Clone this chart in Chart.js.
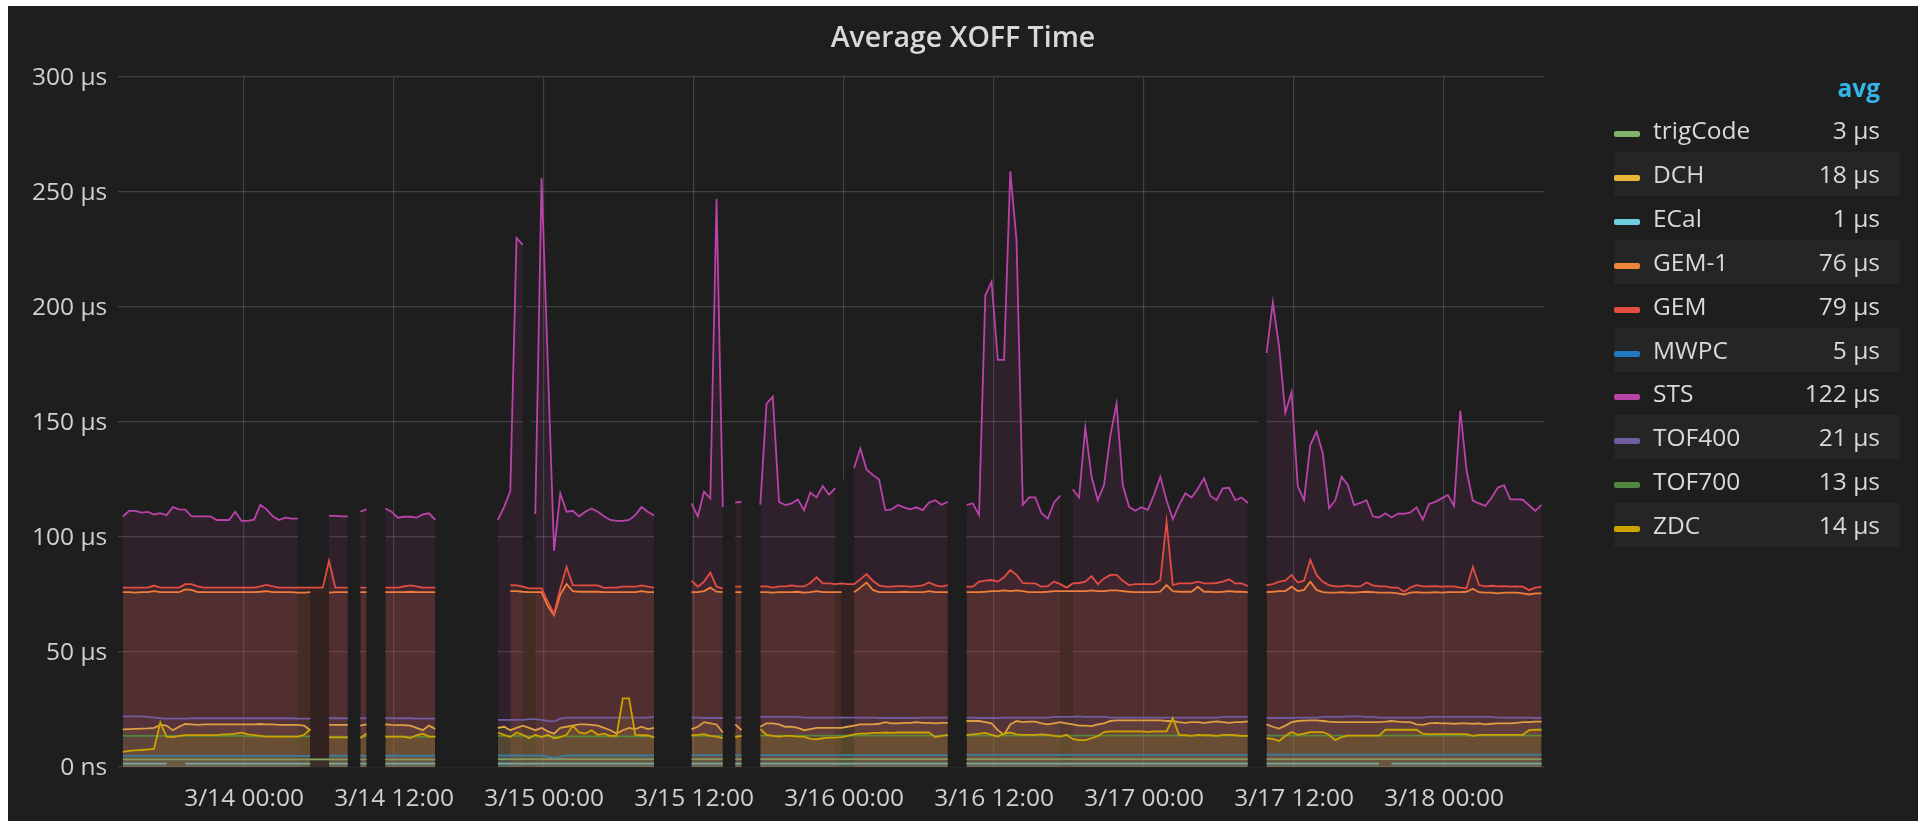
<!DOCTYPE html>
<html>
<head>
<meta charset="utf-8">
<script src="https://cdn.jsdelivr.net/npm/chart.js@4/dist/chart.umd.min.js"></script>
<style>
html,body{margin:0;padding:0;background:#ffffff;width:1918px;height:821px;overflow:hidden;font-family:"Open Sans",sans-serif;}
#panel{position:absolute;left:8px;top:6px;width:1910px;height:815px;background:#1f1e1f;}
#c{position:absolute;left:0;top:0;}
#legend{position:absolute;left:1606px;top:0;width:286px;height:815px;}
.lhead{position:absolute;left:0;top:67px;width:266px;height:30px;line-height:30px;text-align:right;color:#33b5e5;font-weight:bold;font-size:24.5px;}
.lrow{position:absolute;left:0;width:286px;height:44px;line-height:44px;font-size:24.5px;color:#d8d9da;white-space:nowrap;}
.lrow.odd{background:#252526;}
.sw{position:absolute;left:0;top:23px;width:26px;height:6px;border-radius:2px;}
.lname{position:absolute;left:39px;top:0;}
.lval{position:absolute;right:20px;top:0;}
</style>
</head>
<body>
<div id="panel">
  <canvas id="c" width="1910" height="815"></canvas>
  <div id="legend"></div>
</div>
<script>
const _ = null;

// ---- categories / labels ----
const chartTitle = 'Average XOFF Time';
const seriesNames = ['trigCode','DCH','ECal','GEM-1','GEM','MWPC','STS','TOF400','TOF700','ZDC'];
const seriesColors = ['#7EB26D','#EAB839','#6ED0E0','#EF843C','#E24D42','#1F78C1','#BA43A9','#705DA0','#508642','#CCA300'];
const avgLabels = ['3 µs','18 µs','1 µs','76 µs','79 µs','5 µs','122 µs','21 µs','13 µs','14 µs'];
const xTickHours = [0,12,24,36,48,60,72,84,96];   // hours since 3/14 00:00
const xTickLabels = ['3/14 00:00','3/14 12:00','3/15 00:00','3/15 12:00','3/16 00:00','3/16 12:00','3/17 00:00','3/17 12:00','3/18 00:00'];
const yTickValues = [0,50,100,150,200,250,300];
const yTickLabels = ['0 ns','50 µs','100 µs','150 µs','200 µs','250 µs','300 µs'];
const xMinHour = -10.06, xMaxHour = 104.02;
const sampleStartHour = -9.7, sampleStepHours = 0.5;   // 30-minute samples

// ---- series values (µs), 228 samples each ----
const STS = [
108.8,111.4,111.4,110.6,110.9,109.8,110.4,109.5,113,112,
111.9,109,109,109,109,107.4,107.4,107.4,111,107,
107,107.5,114,112,109,107.4,108.4,108,108,_,
_,_,_,109.2,109.2,109,109,_,111,112,
_,_,112.4,111,108.4,108.8,108.8,108.4,109.8,110.3,
107.4,_,_,_,_,_,_,_,_,_,
107.4,113,120,230,227,_,110,256,175,94,
119,111,111.4,109,111,112.4,111,109,107.4,107,
107,107.4,109.5,113,111,109.3,_,_,_,_,
_,114.6,109,119.7,116.8,247,113,_,115,115.3,
_,_,114,158,161,115.3,113.9,114.6,116.3,111.7,
119.3,117.2,122.2,118.4,121.2,_,_,130,138.5,129.4,
127,125,111.7,112,113.9,112.9,112,112.9,111.7,115,
116,114,115.3,_,_,114,114.6,109.6,205,211,
177,177,259,229,114,117.2,117.2,110.3,108,115,
118,_,120.7,117.2,147.7,126.2,116,122.6,144,158,
122.6,113.2,111.4,112.9,111.8,118.3,126.2,116,107.7,113.9,
119,117.2,121,125.5,118,116,121.2,121.4,116,117.2,
114.8,_,_,180,202,183,154,163,122,116,
140,145.8,136.4,112.5,116,126.2,122.6,113.9,114.8,116,
109,108.5,110.3,108.5,110.1,110.1,110.7,112.9,107.6,114.4,
115.3,116.8,118.3,113.5,155,129,115.8,114.6,113.5,117,
121.5,122.5,116.4,116.4,116.2,113.8,111.4,114];

const GEM = [
78,78,78,78,78,78.9,78,78,78,78,
79.5,79.5,78.5,78,78,78,78,78,78,78,
78,78,78.5,79.2,78.5,78,78,78,78,78,
78,78,78,89.7,78,78,78,_,78,78,
_,_,78,78,78,78.5,79,78.5,78,78,
78,_,_,_,_,_,_,_,_,_,
_,_,79.1,79,78.4,77.7,77.7,77.7,71.9,66.7,
77.6,87,79.1,79,79,79,79,77.9,78,78,
78.4,78.4,78.4,79,78.4,78,_,_,_,_,
_,81,78.4,80.6,84.5,78.4,77.7,_,78.4,78.4,
_,_,78.5,78.5,78,78.5,78.5,79,78.5,78.5,
80,82.5,79.8,79.8,79.5,79.8,79.5,79.5,81.6,83.9,
81,79,78.4,78.4,78.6,78.6,78.4,78.6,79,80.2,
79,78.4,79.1,_,_,78.4,78.4,80.6,81,81.3,
80.6,82.5,85.7,83.5,80,79.8,79.8,78.4,78.6,80.6,
79.5,78,79.8,80,80.6,83,79.5,82,83.5,83.5,
81,79.1,79.5,79.5,79.5,79.5,81.3,106.7,79.1,79.8,
79.8,79.8,80.6,79.8,79.8,80,80.6,81.6,79.8,79.8,
78.7,_,_,79.1,79.5,80.6,81,83.5,80.2,81,
90,83.5,80.5,79.1,78.5,78.5,79,78.5,78.5,80.2,
79,78.5,78.5,78,78,76.2,78,79.1,78.5,78.5,
78.6,78.4,78.5,78.5,78,77.7,87,79.1,78.5,78.8,
78.5,78.6,78.4,78.5,78.4,76.9,78,78.3];

const GEM1 = [
76,76,75.8,76,76,76.5,76,76,76,76,
77.2,77,76,76,76,76,76,76,76,76,
76,76,76.2,76.5,76,76,76,76,75.8,75.8,
76,_,_,75.8,76,76,76,_,76,76,
_,_,76,76,76,76,76.2,76,76,76,
76,_,_,_,_,_,_,_,_,_,
_,_,76.5,76.5,76.2,76,76,76,70,66,
75,79.6,76.5,76.2,76.2,76.2,76.2,76,76,76,
76,76,76,76.5,76,76,_,_,_,_,
_,76,76,76.5,78,76.2,76,_,76,76,
_,_,76,76,75.8,76,76,76,76.2,75.8,
76,76.5,76,76,76,76,_,76,78,80.2,
77,76,76,76,76,76.2,76,76,76,76.5,
76,76,76,_,_,76,76,76,76.2,76.5,
76.5,76.8,76.5,76.8,76.5,76,76,76,76.2,76.5,
76.5,76.5,76.5,76.5,76.5,76.8,76.5,76.5,76.8,76.8,
76.5,76.2,76,76,76,76,76.2,79.1,76.5,76.2,
76.2,76.2,78.4,76.2,76.2,76,76.2,76.5,76.2,76.2,
76,_,_,76,76.2,76.5,76.5,78.4,76.5,77,
80.6,77,76,75.8,75.8,76,75.8,75.8,76,76.2,
76,75.8,75.8,75.8,75.5,75,75.8,76,75.8,75.8,
76,75.8,76,76,76,76.2,77.5,76,75.8,75.8,
75.5,75.8,75.8,75.8,75.5,75,75.5,75.5];

const TOF400 = [
22,22,22,22,21.8,21.5,21.2,21,21,21,
21,21.2,21.2,21.2,21.2,21.2,21.2,21.2,21.2,21.2,
21.2,21.2,21.2,21.2,21.2,21.2,21.2,21.2,21,21,
21,_,_,21.2,21.2,21.2,21.2,_,21.2,21.2,
_,_,21.2,21.2,21.2,21.2,21.2,21,21,21,
21,_,_,_,_,_,_,_,_,_,
20.5,20.5,20.5,20.5,20.5,20.8,20.8,20.5,20,19.8,
21,21.5,21.5,21.5,21.5,21.5,21.5,21.5,21.5,21.5,
21.5,21.5,21.5,21.5,21.5,21.8,_,_,_,_,
_,21.5,21.5,21.3,21.3,21.3,21.3,_,21.5,21.5,
_,_,21.8,21.8,21.8,21.8,21.8,21.8,21.8,21.5,
21.5,21.5,21.5,21.5,21.5,21.5,21.5,21.5,21.5,21.5,
21.5,21.3,21.3,21.3,21.3,21.3,21.3,21.3,21.5,21.5,
21.5,21.5,21.5,_,_,21.5,21.5,21.3,21.3,21.3,
21.3,21.5,21.5,21.5,21.5,21.5,21.5,21.5,21.5,21.8,
21.8,21.8,21.8,22,21.8,21.8,21.8,21.8,21.5,21.5,
21.5,21.5,21.5,21.5,21.5,21.5,21.5,21.5,21.5,21.5,
21.5,21.5,21.5,21.5,21.5,21.5,21.8,21.8,21.8,21.8,
21.8,_,_,21.3,21.3,21.3,21.3,21.3,21.5,21.5,
21.5,21.5,21.8,21.8,21.8,21.8,22,22,22,21.8,
21.8,21.5,21.5,21.5,21.5,21.5,21.5,21.5,21.5,21.8,
21.8,21.8,21.8,21.8,21.8,21.8,21.8,21.8,21.8,21.8,
21.5,21.5,21.5,21.5,21.5,21.5,21.3,21.3];

const DCH = [
16.4,16.5,16.6,16.7,16.8,17,18.3,18,16,17.5,
18.7,18.5,18.3,18.5,18.5,18.5,18.5,18.5,18.5,18.5,
18.5,18.5,18.7,18.5,18.5,18.3,18.3,18.3,18.3,18,
16,_,_,18.3,18.3,18.3,18.3,_,18,18.5,
_,_,18.5,18.3,18.2,18.2,18,17,16,18,
16.5,_,_,_,_,_,_,_,_,_,
17,17.5,16,17,18,17,16,17,15.5,14.5,
17,17.5,18,18.5,18.5,18.3,18,17,16,14.5,
16,17,16.5,17.5,16.5,17,_,_,_,_,
_,16.5,17.5,19.5,19,18.5,15,_,18.5,16,
_,_,17.5,19,19,18.5,17.5,17.5,17,16,
16.5,17,17,17,17,17,17.5,18,18.5,18.5,
18.5,18.8,19.5,19,19,19.2,19.2,19.5,19.2,19.2,
19,19.2,19.2,_,_,20,20,20,19.5,19,
16,14,18.5,20,19.5,19.7,19.7,19,18.5,19,
19.5,19,18.5,18,18,17.8,18.5,19,20,20.3,
20.3,20.3,20.3,20.3,20.3,20.3,20.3,20,20,19.5,
19.2,19.5,19.5,19.2,19.5,19.8,19.5,19.2,19.5,19.5,
19.8,_,_,18.5,17.5,16.7,18,19.5,20,20.2,
20.3,20.3,20,19.7,19.5,19.5,19.5,19.5,19.5,19.5,
19.5,19.5,19.7,20,19.7,19.5,19.5,18.5,18.3,19,
19.2,19,19,18.8,19,19,18.8,19,18.5,18.8,
19,19,19,19.2,19.5,19.5,19.7,19.7];

const ZDC = [
6.6,7,7.2,7.4,7.6,8,19.3,13.2,13,13.5,
13.9,13.9,13.9,13.9,13.9,13.9,14.2,14.2,14.5,14.9,
14.2,13.9,13.5,13.2,13.2,13.2,13.2,13.2,13.2,14,
16.4,_,_,12.9,12.9,12.9,12.9,_,12.6,14.5,
_,_,13.2,13.2,13.2,13.2,12.6,13.8,14.5,13.2,
13.2,_,_,_,_,_,_,_,_,_,
15,14,13,15,14,12.5,14,13,14,12.5,
13,14,18,15,14.5,16,14,14.5,13.5,13.5,
29.8,29.8,14,13.8,13.8,12.8,_,_,_,_,
_,13.8,14,14.3,13.5,13.2,12.5,_,13,13.5,
_,_,16.5,14,13.5,13.2,13.5,13.5,13.2,13.2,
12.2,12,12.5,12.8,12.8,13,13.5,14.2,14.5,14.5,
14.8,14.8,15,14.8,15,15,15,15,15,15,
13,13.5,14,_,_,14,14.2,14.5,14.8,14,
13.2,14.5,15,14.2,14,14,14,14.2,14,13.5,
13.2,14,12.2,11.7,11.7,12.5,13.5,15.2,15.5,15.5,
15.5,15.5,15.5,15.5,15.3,15.5,15.5,15.5,21.2,14,
13.8,13.5,14,13.8,13.8,13.5,14,14,13.8,13.5,
13.5,_,_,12.5,12.2,11.3,13.5,15.2,14,14.5,
15.2,15.2,15.2,14,11.7,13,13.6,13.6,13.6,13.6,
13.6,13.6,16.2,16.2,16.2,16.2,16.2,16.2,14.5,14.3,
14.3,14.3,14.3,14.3,14.3,14.3,13.5,14,14,14,
14,14,14,14,14,16,16.2,16.2];

const TOF700 = [
13.5,13.5,13.5,13.5,13.5,13.5,13.5,13.5,13.5,13.5,
13.5,13.5,13.5,13.5,13.5,13.5,13.5,13.5,13.5,13.5,
13.3,13.3,13.3,13.3,13.3,13.3,13.3,13.3,13.3,13.3,
13.3,_,_,13.2,13.2,13.2,13.2,_,13.2,13.2,
_,_,13.2,13.2,13.2,13.2,13.2,13.2,13.2,13.2,
13.2,_,_,_,_,_,_,_,_,_,
13.5,13.5,13.5,13.5,13.5,13.3,13.3,13.3,13.3,13.3,
13.3,13.3,13.3,13.3,13.3,13.3,13.3,13.3,13.3,13.3,
13.3,13.3,13.3,13.3,13.3,13.3,_,_,_,_,
_,13.5,13.5,13.5,13.5,13.5,13.5,_,13.5,13.5,
_,_,13.6,13.6,13.6,13.6,13.6,13.6,13.6,13.6,
13.6,13.6,13.6,13.6,13.6,13.6,13.6,13.6,13.6,13.6,
13.6,13.6,13.6,13.6,13.6,13.6,13.6,13.6,13.6,13.6,
13.6,13.6,13.6,_,_,13.6,13.6,13.6,13.6,13.6,
13.6,13.6,13.6,13.6,13.6,13.6,13.6,13.6,13.6,13.6,
13.6,13.6,13.6,13.6,13.6,13.6,13.6,13.6,13.6,13.6,
13.6,13.6,13.6,13.6,13.6,13.6,13.6,13.6,13.6,13.6,
13.6,13.6,13.6,13.6,13.6,13.6,13.6,13.6,13.6,13.6,
13.6,_,_,13.6,13.6,13.6,13.6,13.6,13.6,13.6,
13.6,13.6,13.6,13.6,13.6,13.6,13.6,13.6,13.6,13.6,
13.6,13.6,13.6,13.6,13.6,13.6,13.6,13.6,13.6,13.6,
13.6,13.6,13.6,13.6,13.6,13.6,13.6,13.6,13.6,13.6,
13.6,13.6,13.6,13.6,13.6,13.6,13.6,13.6];

const MWPC = [
4.8,4.8,4.8,4.8,4.8,4.8,4.8,4.8,4.8,4.8,
4.8,4.8,4.8,4.8,4.8,4.8,4.8,4.8,4.8,4.8,
4.8,4.8,4.8,4.8,4.8,4.8,4.8,4.8,4.8,4.8,
4.8,_,_,4.9,4.9,4.9,4.9,_,4.9,4.9,
_,_,4.9,4.9,4.9,4.9,4.9,4.9,4.9,4.9,
4.9,_,_,_,_,_,_,_,_,_,
5,5,5,5,5,5,5,5,4.5,4,
4.5,5,5,5,5,5,5,5,5,5,
5,5,5,5,5,5,_,_,_,_,
_,5.2,5.2,5.2,5.2,5.2,5.2,_,5.2,5.2,
_,_,5.2,5.2,5.2,5.2,5.2,5.2,5.2,5.2,
5.2,5.2,5.2,5.2,5.2,5.2,5.2,5.2,5.2,5.2,
5.2,5.2,5.2,5.2,5.2,5.2,5.2,5.2,5.2,5.2,
5.2,5.2,5.2,_,_,5.3,5.3,5.3,5.3,5.3,
5.3,5.3,5.3,5.3,5.3,5.3,5.3,5.3,5.3,5.3,
5.3,5.3,5.3,5.3,5.3,5.3,5.3,5.3,5.3,5.3,
5.3,5.3,5.3,5.3,5.3,5.3,5.3,5.3,5.3,5.3,
5.3,5.3,5.3,5.3,5.3,5.3,5.3,5.3,5.3,5.3,
5.3,_,_,5.4,5.4,5.4,5.4,5.4,5.4,5.4,
5.4,5.4,5.4,5.4,5.4,5.4,5.4,5.4,5.4,5.4,
5.4,5.4,5.4,5.4,5.4,5.4,5.4,5.4,5.4,5.4,
5.4,5.4,5.4,5.4,5.4,5.4,5.4,5.4,5.4,5.4,
5.4,5.4,5.4,5.4,5.4,5.4,5.4,5.4];

const trigCode = [
3.3,3.3,3.3,3.3,3.3,3.3,3.3,3.3,3.3,3.3,
3.3,3.3,3.3,3.3,3.3,3.3,3.3,3.3,3.3,3.3,
3.3,3.3,3.3,3.3,3.3,3.3,3.3,3.3,3.3,3.3,
3.3,3.3,3.3,3.3,3.3,3.3,3.3,_,3.3,3.3,
_,_,3.3,3.3,3.3,3.3,3.3,3.3,3.3,3.3,
3.3,_,_,_,_,_,_,_,_,_,
3.4,3.4,3.4,3.4,3.4,3.4,3.4,3.4,3.4,3.4,
3.4,3.4,3.4,3.4,3.4,3.4,3.4,3.4,3.4,3.4,
3.4,3.4,3.4,3.4,3.4,3.4,_,_,_,_,
_,3.4,3.4,3.4,3.4,3.4,3.4,_,3.4,3.4,
_,_,3.4,3.4,3.4,3.4,3.4,3.4,3.4,3.4,
3.4,3.4,3.4,3.4,3.4,3.4,3.4,3.4,3.4,3.4,
3.4,3.4,3.4,3.4,3.4,3.4,3.4,3.4,3.4,3.4,
3.4,3.4,3.4,_,_,3.4,3.4,3.4,3.4,3.4,
3.4,3.4,3.4,3.4,3.4,3.4,3.4,3.4,3.4,3.4,
3.4,3.4,3.4,3.4,3.4,3.4,3.4,3.4,3.4,3.4,
3.4,3.4,3.4,3.4,3.4,3.4,3.4,3.4,3.4,3.4,
3.4,3.4,3.4,3.4,3.4,3.4,3.4,3.4,3.4,3.4,
3.4,_,_,3.4,3.4,3.4,3.4,3.4,3.4,3.4,
3.4,3.4,3.4,3.4,3.4,3.4,3.4,3.4,3.4,3.4,
3.4,3.4,3.4,3.4,3.4,3.4,3.4,3.4,3.4,3.4,
3.4,3.4,3.4,3.4,3.4,3.4,3.4,3.4,3.4,3.4,
3.4,3.4,3.4,3.4,3.4,3.4,3.4,3.4];

const ECal = [
1.5,1.5,1.5,1.5,1.5,1.5,1.5,1.5,_,_,
1.5,1.5,1.5,1.5,1.5,1.5,1.5,1.5,1.5,1.5,
1.5,1.5,1.5,1.5,1.5,1.5,1.5,1.5,1.5,1.5,
1.5,_,_,1.5,1.5,1.5,1.5,_,1.5,1.5,
_,_,1.5,1.5,1.5,1.5,1.5,1.5,1.5,1.5,
1.5,_,_,_,_,_,_,_,_,_,
1.5,1.5,1.5,1.5,1.5,1.5,1.5,1.5,1.5,1.5,
1.5,1.5,1.5,1.5,1.5,1.5,1.5,1.5,1.5,1.5,
1.5,1.5,1.5,1.5,1.5,1.5,_,_,_,_,
_,1.5,1.5,1.5,1.5,1.5,1.5,_,1.5,1.5,
_,_,1.5,1.5,1.5,1.5,1.5,1.5,1.5,1.5,
1.5,1.5,1.5,1.5,1.5,1.5,1.5,1.5,1.5,1.5,
1.5,1.5,1.5,1.5,1.5,1.5,1.5,1.5,1.5,1.5,
1.5,1.5,1.5,_,_,1.5,1.5,1.5,1.5,1.5,
1.5,1.5,1.5,1.5,1.5,1.5,1.5,1.5,1.5,1.5,
1.5,1.5,1.5,1.5,1.5,1.5,1.5,1.5,1.5,1.5,
1.5,1.5,1.5,1.5,1.5,1.5,1.5,1.5,1.5,1.5,
1.5,1.5,1.5,1.5,1.5,1.5,1.5,1.5,1.5,1.5,
1.5,_,_,1.5,1.5,1.5,1.5,1.5,1.5,1.5,
1.5,1.5,1.5,1.5,1.5,1.5,1.5,1.5,1.5,1.5,
1.5,1.5,_,1.5,1.5,1.5,1.5,1.5,1.5,1.5,
1.5,1.5,1.5,1.5,1.5,1.5,1.5,1.5,1.5,1.5,
1.5,1.5,1.5,1.5,1.5,1.5,1.5,1.5];

const seriesValues = [trigCode, DCH, ECal, GEM1, GEM, MWPC, STS, TOF400, TOF700, ZDC];

// ---- build chart ----
const panelBg = '#1f1e1f';
function withAlpha(hex, a) {
  const n = parseInt(hex.slice(1), 16);
  return 'rgba(' + ((n >> 16) & 255) + ',' + ((n >> 8) & 255) + ',' + (n & 255) + ',' + a + ')';
}
seriesValues.forEach((arr, k) => { if (arr.length !== 228) console.warn(seriesNames[k] + ' length ' + arr.length); });

const inGap = (ctx) => ctx.p0.skip || ctx.p1.skip;

const datasets = seriesValues.map((vals, k) => {
  const isSTS = seriesNames[k] === 'STS';
  const ds = {
    label: seriesNames[k],
    data: vals.map((v, i) => ({ x: sampleStartHour + sampleStepHours * i, y: v })),
    borderColor: seriesColors[k],
    backgroundColor: withAlpha(seriesColors[k], 0.1),
    borderWidth: 1.8,
    fill: 'origin',
    pointRadius: 0,
    pointHoverRadius: 0,
    tension: 0,
    spanGaps: false,
    order: -k
  };
  if (isSTS) {
    // STS drawn underneath everything; its no-data spans hide the grid like the original panel
    ds.order = 100;
    ds.spanGaps = true;
    ds.segment = {
      borderColor: (ctx) => inGap(ctx) ? 'rgba(0,0,0,0)' : undefined,
      backgroundColor: (ctx) => inGap(ctx) ? panelBg : undefined
    };
  }
  return ds;
});

Chart.defaults.font.family = '"Open Sans", sans-serif';
const gridColor = 'rgba(200,200,200,0.2)';

new Chart(document.getElementById('c'), {
  type: 'line',
  data: { datasets },
  options: {
    responsive: false,
    animation: false,
    events: [],
    layout: { padding: 0 },
    plugins: {
      legend: { display: false },
      tooltip: { enabled: false },
      title: {
        display: true,
        text: chartTitle,
        color: '#d8d9da',
        font: { size: 28.5, weight: '600', lineHeight: 1.2 },
        padding: { top: 15.6, bottom: 21.2 }
      }
    },
    scales: {
      x: {
        type: 'linear',
        min: xMinHour,
        max: xMaxHour,
        afterBuildTicks: (s) => { s.ticks = xTickHours.map(v => ({ value: v })); },
        afterFit: (s) => { s.height = 54; },
        ticks: {
          autoSkip: false,
          maxRotation: 0,
          minRotation: 0,
          padding: 17,
          color: '#d0d0d0',
          font: { size: 24.5 },
          callback: (v, i) => xTickLabels[i]
        },
        grid: { color: gridColor, lineWidth: 1.2, drawTicks: false },
        border: { display: false }
      },
      y: {
        type: 'linear',
        min: 0,
        max: 300,
        afterBuildTicks: (s) => { s.ticks = yTickValues.map(v => ({ value: v })); },
        afterFit: (s) => { s.width = 110.3; },
        ticks: {
          padding: 11,
          color: '#d0d0d0',
          font: { size: 24.5 },
          labelOffset: 1,
          callback: (v, i) => yTickLabels[i]
        },
        grid: { color: gridColor, lineWidth: 1.2, drawTicks: false },
        border: { display: false }
      },
      legendSpace: {
        // empty right-hand axis that reserves the room where the legend table sits
        type: 'linear',
        position: 'right',
        min: 0,
        max: 1,
        afterFit: (s) => { s.width = 373.7; },
        ticks: { display: false },
        grid: { display: false, drawOnChartArea: false },
        border: { display: false }
      }
    }
  }
});

// ---- legend table (HTML text) ----
const legend = document.getElementById('legend');
const head = document.createElement('div');
head.className = 'lhead';
head.textContent = 'avg';
legend.appendChild(head);
seriesNames.forEach((name, k) => {
  const row = document.createElement('div');
  row.className = 'lrow' + (k % 2 === 1 ? ' odd' : '');
  row.style.top = (102 + k * 43.9) + 'px';
  const sw = document.createElement('div');
  sw.className = 'sw';
  sw.style.background = seriesColors[k];
  const nm = document.createElement('span');
  nm.className = 'lname';
  nm.textContent = name;
  const val = document.createElement('span');
  val.className = 'lval';
  val.textContent = avgLabels[k];
  row.appendChild(sw); row.appendChild(nm); row.appendChild(val);
  legend.appendChild(row);
});
</script>
</body>
</html>
